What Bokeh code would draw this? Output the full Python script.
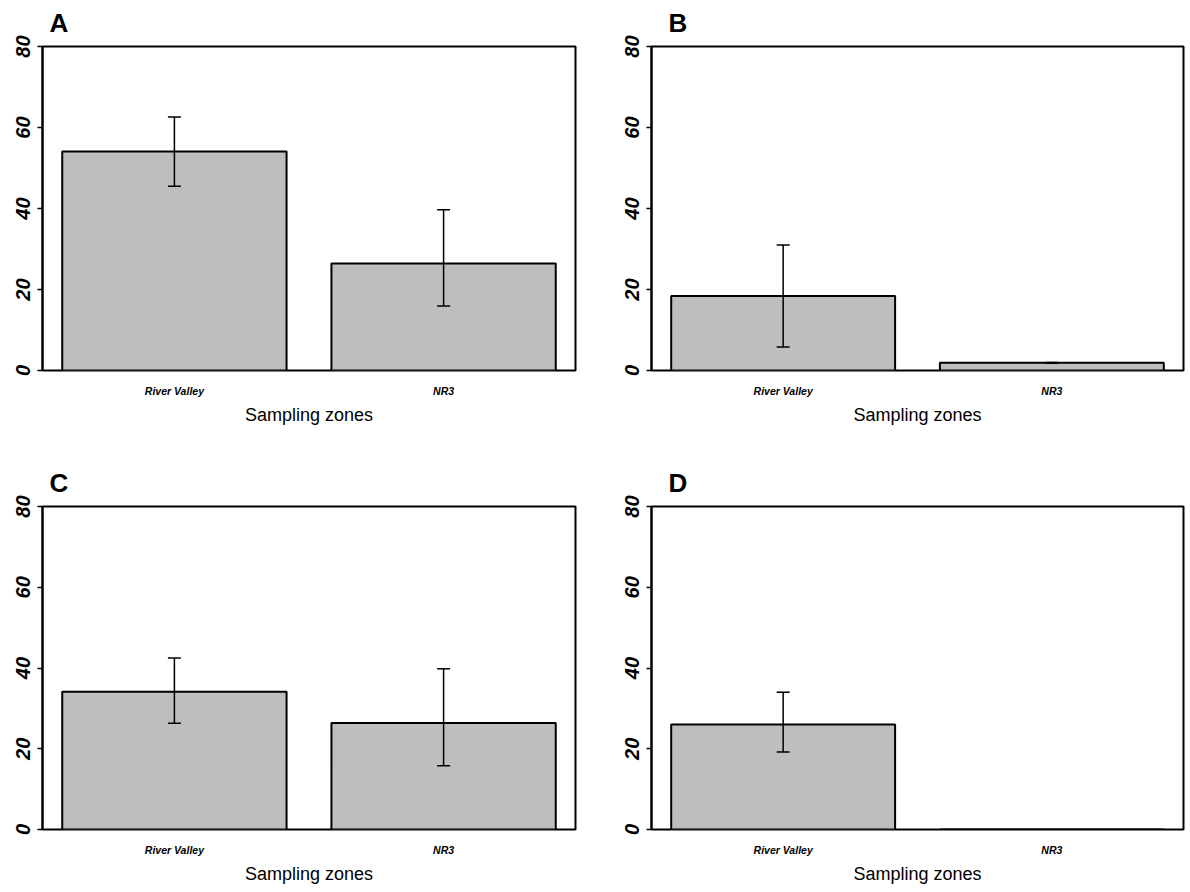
from bokeh.plotting import figure
from bokeh.models import Range1d, FixedTicker, Whisker, TeeHead, ColumnDataSource
from bokeh.layouts import column, row
from bokeh.embed import file_html
from bokeh.resources import INLINE

# ---------------- data ----------------
categories = ["River Valley", "NR3"]
panel_letters = ["A", "B", "C", "D"]

a_mean = [54.1, 26.4]
a_upper = [62.6, 39.7]
a_lower = [45.5, 15.9]

b_mean = [18.4, 1.9]
b_upper = [31.0, 2.0]
b_lower = [5.8, 1.8]

c_mean = [34.1, 26.4]
c_upper = [42.5, 39.8]
c_lower = [26.3, 15.8]

d_mean = [26.0, 0.0]
d_upper = [34.0, None]
d_lower = [19.2, None]

y_ticks = [0, 20, 40, 60, 80]
x_title = "Sampling zones"

FONT = "Liberation Sans"

# layout per column / row (sizes only)
COLS = [dict(width=591, left=42, right=16, letter_dx=7),
        dict(width=599, left=60, right=7, letter_dx=17)]
ROWS = [dict(height=446, top=46, bottom=76, title_standoff=14),
        dict(height=446, top=60, bottom=63, title_standoff=14)]


def make_panel(letter, means, uppers, lowers, ci, ri):
    cc, rr = COLS[ci], ROWS[ri]
    p = figure(width=cc["width"], height=rr["height"],
               x_range=Range1d(0.112, 2.488), y_range=Range1d(0, 80),
               output_backend="svg", toolbar_location=None,
               min_border_left=cc["left"], min_border_right=cc["right"],
               min_border_top=rr["top"], min_border_bottom=rr["bottom"],
               background_fill_color="white", border_fill_color="white")
    xs = [round(0.7 + 1.2 * i, 2) for i in range(len(categories))]

    src = ColumnDataSource(dict(x=xs, top=means))
    p.vbar(x="x", top="top", bottom=0, width=1.0, source=src,
           fill_color="#bebebe", line_color="black", line_width=2)

    wx, wu, wl = [], [], []
    for x, u, l in zip(xs, uppers, lowers):
        if u is not None and l is not None:
            wx.append(x); wu.append(u); wl.append(l)
    wsrc = ColumnDataSource(dict(x=wx, upper=wu, lower=wl))
    w = Whisker(source=wsrc, base="x", upper="upper", lower="lower",
                line_color="black", line_width=1.5, level="overlay",
                upper_head=TeeHead(size=13, line_color="black", line_width=1.5),
                lower_head=TeeHead(size=13, line_color="black", line_width=1.5))
    p.add_layout(w)

    p.xgrid.visible = False
    p.ygrid.visible = False
    p.outline_line_color = "black"
    p.outline_line_width = 2
    p.outline_line_alpha = 1.0

    p.title.text = letter
    p.title.text_font = FONT
    p.title.text_font_size = "26px"
    p.title.text_font_style = "bold"
    p.title.text_color = "black"
    p.title.align = "left"
    p.title.vertical_align = "top"
    p.title.offset = cc["letter_dx"]
    p.title.standoff = rr["title_standoff"]

    ya = p.yaxis[0]
    ya.ticker = FixedTicker(ticks=y_ticks)
    ya.major_label_orientation = "vertical"
    ya.major_label_text_font = FONT
    ya.major_label_text_font_size = "20px"
    ya.major_label_text_font_style = "bold italic"
    ya.major_label_text_color = "black"
    ya.major_tick_out = 5
    ya.major_tick_in = 0
    ya.minor_tick_out = 0
    ya.minor_tick_in = 0
    ya.major_tick_line_width = 1.5
    ya.major_tick_line_color = "black"
    ya.axis_line_width = 2
    ya.axis_line_color = "black"
    ya.major_label_standoff = 8

    xa = p.xaxis[0]
    xa.ticker = FixedTicker(ticks=xs)
    xa.major_label_overrides = {x: c for x, c in zip(xs, categories)}
    xa.major_tick_out = 0
    xa.major_tick_in = 0
    xa.minor_tick_out = 0
    xa.minor_tick_in = 0
    xa.axis_line_color = None
    xa.major_label_text_font = FONT
    xa.major_label_text_font_size = "10.5px"
    xa.major_label_text_font_style = "bold italic"
    xa.major_label_text_color = "black"
    xa.major_label_standoff = 14
    xa.axis_label = x_title
    xa.axis_label_text_font = FONT
    xa.axis_label_text_font_size = "18px"
    xa.axis_label_text_font_style = "normal"
    xa.axis_label_text_color = "black"
    xa.axis_label_standoff = 5
    return p


pa = make_panel(panel_letters[0], a_mean, a_upper, a_lower, 0, 0)
pb = make_panel(panel_letters[1], b_mean, b_upper, b_lower, 1, 0)
pc = make_panel(panel_letters[2], c_mean, c_upper, c_lower, 0, 1)
pd_ = make_panel(panel_letters[3], d_mean, d_upper, d_lower, 1, 1)

layout = column(row(pa, pb), row(pc, pd_))
open("out.html", "w").write(file_html(layout, INLINE))
